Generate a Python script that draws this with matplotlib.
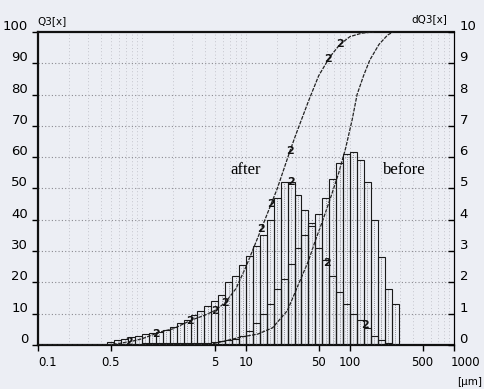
import numpy as np
import matplotlib
matplotlib.use("Agg")
import matplotlib.pyplot as plt
import matplotlib.transforms as mtransforms
from matplotlib.ticker import FixedLocator, NullFormatter

# size classes (bin edges, um)
bin_edges = [0.464, 0.541, 0.631, 0.736, 0.858, 1.0, 1.166, 1.359, 1.585, 1.848,
             2.154, 2.512, 2.929, 3.415, 3.981, 4.642, 5.412, 6.310, 7.356, 8.577,
             10.0, 11.66, 13.59, 15.85, 18.48, 21.54, 25.12, 29.29, 34.15, 39.81,
             46.42, 54.12, 63.10, 73.56, 85.77, 100.0, 116.6, 135.9, 158.5, 184.8,
             215.4, 251.2, 292.9]

# density dQ3 per class
dq3_after = [0.10, 0.15, 0.20, 0.25, 0.30, 0.35, 0.40, 0.43, 0.48, 0.58,
             0.70, 0.80, 0.96, 1.10, 1.25, 1.40, 1.60, 2.00, 2.20, 2.56,
             2.85, 3.15, 3.50, 4.00, 4.70, 5.20, 5.20, 4.80, 4.30, 3.90,
             3.10, 2.70, 2.20, 1.70, 1.30, 1.00, 0.80, 0.55, 0.30, 0.15,
             0.05, 0.00]
dq3_before = [0.00, 0.00, 0.00, 0.00, 0.00, 0.05, 0.05, 0.05, 0.05, 0.05,
              0.05, 0.05, 0.05, 0.05, 0.05, 0.10, 0.12, 0.15, 0.20, 0.30,
              0.45, 0.70, 1.00, 1.30, 1.80, 2.10, 2.60, 3.10, 3.50, 3.80,
              4.20, 4.70, 5.30, 5.80, 6.10, 6.15, 5.90, 5.20, 4.00, 2.80,
              1.80, 1.30]

# cumulative Q3 curves
q3_after_x = [0.1, 0.45, 0.6, 0.8, 1.0, 1.5, 2.0, 3.0, 4.0, 5.0, 6.3, 8.0, 10, 14,
              20, 26.5, 30, 40, 50, 64, 80, 100, 130, 170]
q3_after_y = [0, 0, 0.5, 1.2, 2, 4.2, 5.2, 8, 9.5, 11, 13.5, 18, 25, 37,
              50, 62, 67, 78, 86, 92, 96, 98.5, 99.6, 100]
q3_before_x = [0.1, 3, 5, 8.8, 13, 18, 25, 31.6, 40, 46, 55, 65, 78, 91, 105, 117,
               135, 155, 190, 230, 260]
q3_before_y = [0, 0, 0.5, 2.5, 3.5, 5.5, 11, 19, 27, 33, 40, 47, 55, 63, 72, 80,
               86, 91, 96, 99, 100]

# where the curve-id "2" is printed
label2_q3_sizes = [0.75, 1.35, 2.9, 5.0, 6.3, 14.0, 17.5, 26.5, 62, 80]
label2_dq3_sizes = [27.0, 60.0, 140.0]

x_ticks = [0.1, 0.5, 5, 10, 50, 100, 500, 1000]
x_ticklabels = ["0.1", "0.5", "5", "10", "50", "100", "500", "1000"]

narrow = ["Liberation Sans Narrow", "DejaVu Sans"]
bg = "#eceef4"

fig = plt.figure(figsize=(4.84, 3.89), dpi=100, facecolor=bg)
ax = fig.add_axes([0.0785, 0.113, 0.8595, 0.805], facecolor=bg)
ax2 = ax.twinx()

ax.set_xscale("log")
ax.set_xlim(0.1, 1000)
ax.set_ylim(0, 100)
ax2.set_ylim(0, 10)

# grid
for v in range(10, 100, 10):
    ax.axhline(v, color="#8a8a90", lw=0.8, ls=(0, (1, 2)), zorder=0)
minor_x = [m * 10.0 ** e for e in range(-1, 3) for m in range(2, 10)] + [1, 10, 100]
for v in minor_x:
    ax.axvline(v, color="#b8b8c0", lw=0.6, ls=(0, (1, 3)), zorder=0)

# histograms (outline bars) on dQ3 axis
edges = np.array(bin_edges)
lefts = edges[:-1]
widths = np.diff(edges)
centers = np.sqrt(edges[:-1] * edges[1:])
ax2.vlines(centers, 0, np.maximum(dq3_after, dq3_before), colors="#7a7a80",
           lw=0.6, linestyles=(0, (1, 1.5)), zorder=1)
ax2.bar(lefts, dq3_before, width=widths, align="edge", fill=False,
        edgecolor="#1a1a1a", lw=0.8, zorder=2)
ax2.bar(lefts, dq3_after, width=widths, align="edge", fill=False,
        edgecolor="#1a1a1a", lw=0.8, zorder=2)

# cumulative curves
ax.plot(q3_after_x, q3_after_y, color="#222222", lw=0.9, ls=(0, (3, 1)), zorder=3)
ax.plot(q3_before_x, q3_before_y, color="#222222", lw=0.9, ls=(0, (3, 1)), zorder=3)

lx = np.log10(label2_q3_sizes)
ly = np.interp(lx, np.log10(q3_after_x), q3_after_y)
for s, v in zip(label2_q3_sizes, ly):
    ax.text(s, v, "2", fontsize=8, fontweight="bold", family=narrow,
            ha="center", va="center", color="#111111", zorder=4)
dy = np.interp(np.log10(label2_dq3_sizes), np.log10(centers), dq3_after)
for s, v in zip(label2_dq3_sizes, dy):
    ax2.text(s, v, "2", fontsize=8, fontweight="bold", family=narrow,
             ha="center", va="center", color="#111111", zorder=4)

ax.text(10, 56, "after", family=["Liberation Serif", "DejaVu Serif"], fontsize=12,
        ha="center", va="center")
ax.text(330, 56, "before", family=["Liberation Serif", "DejaVu Serif"], fontsize=12,
        ha="center", va="center")

# spines
for side in ["left", "bottom", "top"]:
    ax.spines[side].set_linewidth(1.6)
    ax.spines[side].set_color("#111111")
ax.spines["right"].set_linewidth(0.8)
ax2.spines["right"].set_linewidth(0.8)
for s in ["left", "bottom", "top"]:
    ax2.spines[s].set_visible(False)

# ticks
ax.xaxis.set_major_locator(FixedLocator(x_ticks))
ax.xaxis.set_minor_locator(FixedLocator([]))
ax.xaxis.set_minor_formatter(NullFormatter())
ax.set_xticklabels(x_ticklabels, family=narrow, fontsize=8.5)
ax.set_yticks(range(0, 101, 10))
ax.set_yticklabels([str(v) for v in range(0, 101, 10)], family=narrow, fontsize=9.5)
ax2.set_yticks(range(0, 11))
ax2.set_yticklabels([str(v) for v in range(0, 11)], family=narrow, fontsize=9.5)
ax.tick_params(axis="x", direction="out", length=4, width=1, pad=4)
ax.tick_params(axis="y", direction="out", length=4, width=1, pad=3)
ax2.tick_params(axis="y", direction="in", length=4, width=1, pad=4)

up = mtransforms.ScaledTranslation(0, 7 / 100, fig.dpi_scale_trans)
for lab in ax.get_yticklabels() + ax2.get_yticklabels():
    lab.set_transform(lab.get_transform() + up)
xl = ax.get_xticklabels()
xl[0].set_horizontalalignment("left")
xl[-1].set_horizontalalignment("left")
left_shift = mtransforms.ScaledTranslation(-3 / 100, 0, fig.dpi_scale_trans)
xl[-1].set_transform(xl[-1].get_transform() + left_shift)

fig.text(0.078, 0.945, "Q3[x]", family=narrow, fontsize=7.5, ha="left", va="center")
fig.text(0.925, 0.952, "dQ3[x]", family=narrow, fontsize=7.5, ha="right", va="center")
fig.text(0.996, 0.018, "[\u00b5m]", family=narrow, fontsize=7.5, ha="right", va="center")

fig.savefig("out.png", dpi=100, facecolor=bg)
